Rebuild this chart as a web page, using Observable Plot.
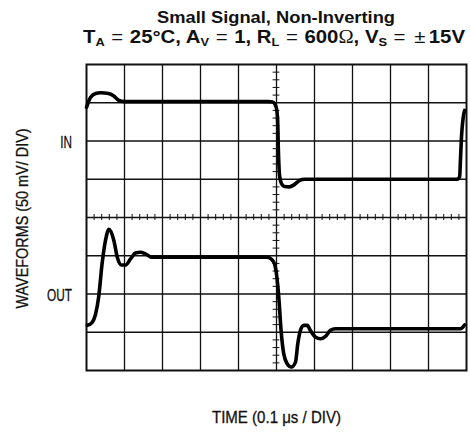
<!DOCTYPE html>
<html>
<head>
<meta charset="utf-8">
<script src="https://cdn.jsdelivr.net/npm/d3@7"></script>
<script src="https://cdn.jsdelivr.net/npm/@observablehq/plot@0.6"></script>
<style>
  body { margin: 0; background: #fff; }
  #wrap { position: relative; width: 470px; height: 436px; }
  #title { position: absolute; left: 0; top: 0; width: 470px; height: 52px;
           font-family: "Liberation Sans", Arial, Helvetica, sans-serif; font-weight: bold; color: #111; white-space: nowrap; }
  #title .line { position: absolute; left: 0; width: 470px; text-align: left; }
  #title .l1 { top: 9.3px; height: 16px; font-size: 16.5px; line-height: 16px; }
  #title .l2 { top: 28px; height: 18px; font-size: 18.5px; line-height: 18px; }
  #title .inner { display: inline-block; position: absolute; transform-origin: 0 50%; }
  #title sub { font-size: 0.63em; vertical-align: -0.22em; line-height: 0; }
  #title .om { font-family: "Liberation Serif", "DejaVu Serif", serif; font-weight: normal; }
  #title .eq { font-weight: normal; margin: 0 6px; line-height: 0; }
  #title .pm { font-weight: normal; margin: 0 3px 0 2px; line-height: 0; }
  #chart { position: absolute; left: 0; top: 52px; }
</style>
</head>
<body>
<div id="wrap">
  <div id="title">
    <div class="line l1"><span class="inner" id="t1">Small Signal, Non-Inverting</span></div>
    <div class="line l2"><span class="inner" id="t2">T<sub>A</sub><span class="eq">=</span>25°C, A<sub>V</sub><span class="eq">=</span>1, R<sub>L</sub><span class="eq">=</span>600<span class="om">Ω</span>, V<sub>S</sub><span class="eq">=</span><span class="pm">±</span>15V</span></div>
  </div>
  <div id="chart"></div>
</div>
<script>
// Grid divisions (oscilloscope screen: 10 x 8 divisions)
const xDivs = [0, 1, 2, 3, 4, 5, 6, 7, 8, 9, 10];
const yDivs = [0, 1, 2, 3, 4, 5, 6, 7, 8];

// Input waveform (time in divisions, level in divisions)
const inTime  = [0, 0.105, 0.24, 0.37, 0.58, 0.71, 0.84, 1.0, 4.79, 4.89, 4.95, 5.0, 5.03, 5.05, 5.08, 5.13, 5.21, 5.34, 5.47, 5.61, 5.74, 9.76, 9.82, 9.84, 9.87, 9.91, 9.95];
const inLevel = [6.88, 7.14, 7.24, 7.26, 7.24, 7.18, 7.07, 7.03, 7.03, 7.02, 6.98, 6.85, 6.54, 5.75, 5.10, 4.89, 4.81, 4.80, 4.86, 4.97, 5.0, 5.0, 5.07, 5.49, 6.14, 6.59, 6.80];

// Output waveform
const outTime  = [0.02, 0.15, 0.24, 0.32, 0.41, 0.50, 0.59, 0.72, 0.81, 0.92, 1.03, 1.16, 1.29, 1.42, 1.55, 1.73, 4.75, 4.89, 4.97, 5.06, 5.12, 5.19, 5.28, 5.39, 5.50, 5.56, 5.63, 5.72, 5.81, 5.89, 6.03, 6.16, 6.29, 6.42, 6.55, 9.84, 9.90, 9.95];
const outLevel = [1.18, 1.26, 1.48, 1.92, 2.79, 3.40, 3.69, 3.40, 2.96, 2.76, 2.76, 2.92, 3.07, 3.09, 3.05, 2.96, 2.96, 2.89, 2.70, 1.92, 1.05, 0.44, 0.18, 0.09, 0.22, 0.70, 1.05, 1.18, 1.18, 1.05, 0.87, 0.83, 0.89, 1.05, 1.09, 1.09, 1.13, 1.19];

// Channel labels and their vertical positions (divisions)
const channelNames = ["IN", "OUT"];
const channelPos = [5.95, 1.95];

const yLabel = "WAVEFORMS (50 mV/ DIV)";
const xLabel = "TIME (0.1 μs / DIV)";

const inData = inTime.map((t, i) => ({t, v: inLevel[i]}));
const outData = outTime.map((t, i) => ({t, v: outLevel[i]}));
const chanData = channelNames.map((name, i) => ({name, y: channelPos[i]}));

// minor ticks (5 per division) along the center lines
const xMinor = d3.range(1, 50).map(i => i / 5).filter(v => Math.abs(v - Math.round(v)) > 1e-6);
const yMinor = d3.range(1, 40).map(i => i / 5).filter(v => Math.abs(v - Math.round(v)) > 1e-6);

const labelFont = "'Liberation Sans', Arial, sans-serif";

const plot = Plot.plot({
  width: 470,
  height: 384,
  marginLeft: 86,
  marginRight: 4,
  marginTop: 12,
  marginBottom: 66,
  x: {domain: [0, 10], axis: null},
  y: {domain: [0, 8], axis: null},
  style: {background: "#fff", overflow: "visible"},
  marks: [
    Plot.ruleX(xDivs.slice(1, -1), {stroke: "#111", strokeWidth: 1.3}),
    Plot.ruleY(yDivs.slice(1, -1), {stroke: "#111", strokeWidth: 1.3}),
    Plot.ruleY(yMinor, {x1: 5 - 0.09, x2: 5 + 0.09, stroke: "#111", strokeWidth: 1}),
    Plot.ruleX(xMinor, {y1: 4 - 0.08, y2: 4 + 0.08, stroke: "#111", strokeWidth: 1}),
    Plot.frame({stroke: "#111", strokeWidth: 2}),
    Plot.line(inData, {x: "t", y: "v", stroke: "#000", strokeWidth: 3.6, curve: "monotone-x"}),
    Plot.line(outData, {x: "t", y: "v", stroke: "#000", strokeWidth: 3.6, curve: "monotone-x"}),
    Plot.text(chanData, {y: "y", text: "name", frameAnchor: "left", textAnchor: "end", dx: -14.5, fontSize: 16.3, fontFamily: labelFont, fill: "#111", stroke: "#111", strokeWidth: 0.3}),
    Plot.text([yLabel], {frameAnchor: "left", textAnchor: "middle", dx: -63.5, dy: 1, rotate: -90, fontSize: 16.3, fontFamily: labelFont, fill: "#111", stroke: "#111", strokeWidth: 0.3}),
    Plot.text([xLabel], {frameAnchor: "bottom", textAnchor: "middle", dy: 52, fontSize: 16.3, fontFamily: labelFont, fill: "#111", stroke: "#111", strokeWidth: 0.3})
  ]
});
document.getElementById("chart").appendChild(plot);

// condense label glyphs to the narrow face of the reference
function condense(el, target, vertical, anchorEnd) {
  const len = el.getComputedTextLength();
  if (!len) return;
  const s = target / len;
  const r = el.getBoundingClientRect();
  const parent = el.parentNode;
  const p = plot.createSVGPoint();
  p.x = anchorEnd ? r.right : r.left + r.width / 2;
  p.y = r.top + r.height / 2;
  const c = p.matrixTransform(parent.getScreenCTM().inverse());
  const g = document.createElementNS("http://www.w3.org/2000/svg", "g");
  parent.insertBefore(g, el);
  g.appendChild(el);
  const sx = vertical ? 1 : s, sy = vertical ? s : 1;
  g.setAttribute("transform", `translate(${c.x},${c.y}) scale(${sx},${sy}) translate(${-c.x},${-c.y})`);
}
const targets = {[yLabel]: [180, true, false], [xLabel]: [129, false, false], "IN": [11.7, false, true], "OUT": [25, false, true]};
Array.from(plot.querySelectorAll("text")).forEach(t => {
  const k = t.textContent;
  if (targets[k]) condense(t, ...targets[k]);
});

// fit title lines to the reference widths and centres
function fitLine(id, width, center) {
  const el = document.getElementById(id);
  const w = el.getBoundingClientRect().width;
  const s = width / w;
  el.style.left = (center - width / 2) + "px";
  el.style.transform = `scaleX(${s})`;
}
fitLine("t1", 238, 276);
fitLine("t2", 382, 274);
</script>
</body>
</html>
